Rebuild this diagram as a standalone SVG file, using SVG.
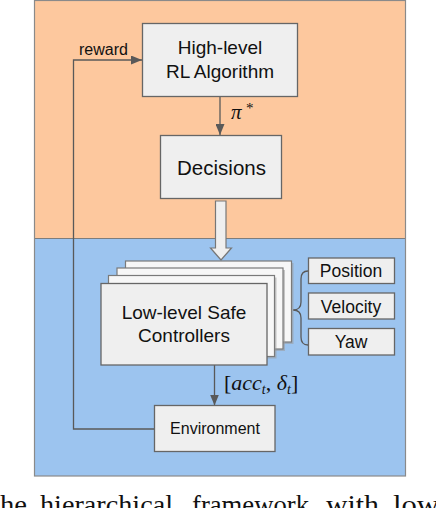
<svg xmlns="http://www.w3.org/2000/svg" width="436" height="508" viewBox="0 0 436 508">
<style>
.box{fill:#efefef;stroke:#666;stroke-width:1.3}
.back{fill:#f7f7f7;stroke:#7a7a7a;stroke-width:1.2}
.shadow{fill:#9a9a9a;opacity:0.55}
.t{font-family:"Liberation Sans",Arial,sans-serif;fill:#111;text-anchor:middle}
.conn{stroke:#595959;stroke-width:1.3;fill:none}
.math{font-family:"Liberation Serif","Times New Roman",serif;fill:#111}
.cap{font-family:"Liberation Serif","Times New Roman",serif;font-size:27px;fill:#111}
</style>
<defs>
<marker id="ah" markerUnits="userSpaceOnUse" markerWidth="11" markerHeight="9" refX="11" refY="4.5" orient="auto">
<path d="M0,0 L11,4.5 L0,9 z" fill="#595959"/>
</marker>
</defs>
<g id="background">
<rect x="34.5" y="0.5" width="371" height="238" fill="#fdc89e"/>
<rect x="34.5" y="238.5" width="371" height="237.5" fill="#9cc4ef"/>
<line x1="34.5" y1="238.5" x2="405.5" y2="238.5" stroke="#7d7d7d" stroke-width="1.2"/>
<rect x="34.5" y="0.5" width="371" height="475.5" fill="none" stroke="#8a8a8a" stroke-width="1.2"/>
</g>
<g id="connectors">
<line class="conn" x1="220" y1="97" x2="220" y2="135" marker-end="url(#ah)"/>
<line class="conn" x1="214.5" y1="365" x2="214.5" y2="405.5" marker-end="url(#ah)"/>
<polyline class="conn" points="154.5,429 73.5,429 73.5,60 142,60" marker-end="url(#ah)"/>
<polygon points="215.5,201 226,201 226,248 231.5,248 221,260 210.5,248 215.5,248" fill="#efefef" stroke="#777" stroke-width="1.2"/>
<path class="conn" d="M308,271 Q301,271 301,279 L301,302 Q301,310 293,310 Q301,310 301,318 L301,337 Q301,345 308,345"/>
<text class="t" x="79" y="55" style="font-size:16px;text-anchor:start">reward</text>
<text class="math" x="231" y="118.5" style="font-size:21px;font-style:italic">π</text>
<text class="math" x="246" y="113" style="font-size:15px">*</text>
<text class="math" x="224" y="389.5" style="font-size:22px">[<tspan font-style="italic">acc</tspan><tspan font-style="italic" font-size="14" dy="4">t</tspan><tspan dy="-4">, </tspan><tspan font-style="italic">δ</tspan><tspan font-style="italic" font-size="14" dy="4">t</tspan><tspan dy="-4">]</tspan></text>
</g>
<g id="high-level">
<rect class="box" x="142.5" y="23.5" width="155" height="73"/>
<text class="t" x="220" y="54" style="font-size:19px">High-level</text>
<text class="t" x="220" y="78" style="font-size:19px">RL Algorithm</text>
</g>
<g id="decisions">
<rect class="box" x="160.5" y="135.5" width="121" height="63"/>
<text class="t" x="221.5" y="175" style="font-size:20.5px">Decisions</text>
</g>
<g id="controllers">
<rect class="shadow" x="127.5" y="263" width="166" height="81"/>
<rect class="back" x="125.5" y="261" width="166" height="81"/>
<rect class="shadow" x="119" y="270" width="166" height="81"/>
<rect class="back" x="117" y="268" width="166" height="81"/>
<rect class="shadow" x="110.5" y="277.5" width="166" height="81"/>
<rect class="back" x="108.5" y="275.5" width="166" height="81"/>
<rect class="box" x="101" y="283.5" width="166" height="81.5"/>
<text class="t" x="184" y="319" style="font-size:19px">Low-level Safe</text>
<text class="t" x="184" y="342" style="font-size:19px">Controllers</text>
</g>
<g id="position">
<rect class="box" x="308.5" y="258" width="86" height="25.5"/>
<text class="t" x="351" y="277" style="font-size:17.5px">Position</text>
</g>
<g id="velocity">
<rect class="box" x="308.5" y="293" width="86" height="26"/>
<text class="t" x="351" y="312.5" style="font-size:17.5px">Velocity</text>
</g>
<g id="yaw">
<rect class="box" x="308.5" y="328.5" width="86" height="26.5"/>
<text class="t" x="351" y="348" style="font-size:17.5px">Yaw</text>
</g>
<g id="environment">
<rect class="box" x="154.5" y="405.5" width="120.5" height="46"/>
<text class="t" x="215" y="434" style="font-size:16px">Environment</text>
</g>
<g id="caption">
<text class="cap" x="0" y="513.5" textLength="27" lengthAdjust="spacingAndGlyphs">he</text>
<text class="cap" x="40" y="513.5" textLength="133" lengthAdjust="spacingAndGlyphs">hierarchical</text>
<text class="cap" x="192" y="513.5" textLength="117" lengthAdjust="spacingAndGlyphs">framework</text>
<text class="cap" x="326" y="513.5" textLength="53" lengthAdjust="spacingAndGlyphs">with</text>
<text class="cap" x="393" y="513.5" textLength="46" lengthAdjust="spacingAndGlyphs">low</text>
</g>
</svg>
